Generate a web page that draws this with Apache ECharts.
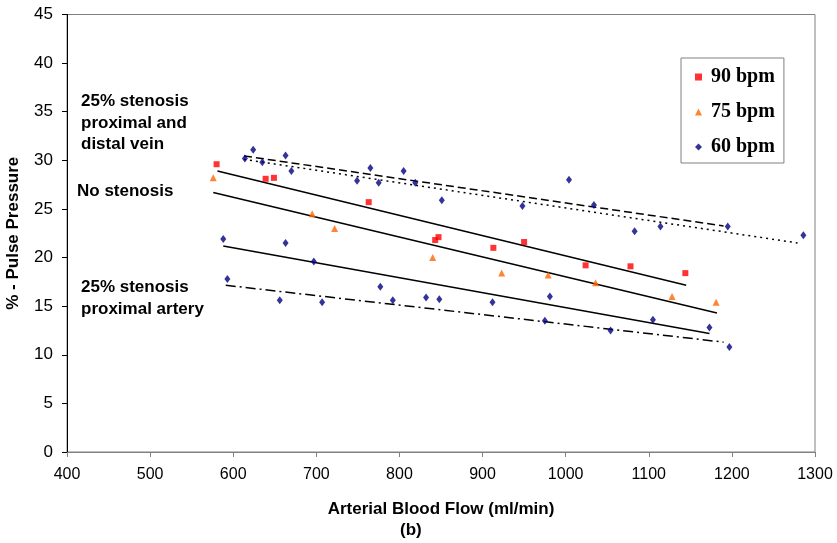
<!DOCTYPE html>
<html>
<head>
<meta charset="utf-8">
<script src="https://cdn.jsdelivr.net/npm/echarts@6/dist/echarts.min.js"></script>
<style>
  html, body { margin: 0; padding: 0; background: #fff; }
  #chart { width: 837px; height: 543px; }
</style>
</head>
<body>
<div id="chart"></div>
<script>
// Measured points: [arterial flow (ml/min), % pulse pressure]
const bpm90 = [[580,29.6],[639,28.1],[649,28.2],[763,25.7],[843,21.8],[847,22.1],[913,21.0],[950,21.6],[1024,19.2],[1078,19.1],[1144,18.4]];
const bpm75 = [[576,28.2],[695,24.5],[722,23.0],[840,20.0],[923,18.4],[979,18.2],[1036,17.4],[1128,16.0],[1181,15.4]];
const bpm60Vein = [[614,30.2],[624,31.1],[635,29.8],[663,30.5],[670,28.9],[749,27.9],[765,29.2],[775,27.7],[805,28.9],[819,27.7],[851,25.9],[948,25.3],[1004,28.0],[1034,25.4],[1083,22.7],[1114,23.2],[1195,23.2],[1286,22.3]];
const bpm60None = [[588,21.9],[663,21.5],[697,19.6],[777,17.0],[981,16.0],[1105,13.6],[1173,12.8]];
const bpm60Artery = [[593,17.8],[656,15.6],[707,15.4],[792,15.6],[832,15.9],[848,15.7],[912,15.4],[975,13.5],[1054,12.5],[1197,10.8]];

// Linear trend lines (end points)
const fit90 = [[581,28.9],[1145,17.15]];
const fit75 = [[576,26.7],[1182,14.3]];
const fit60 = [[588,21.2],[1173,12.2]];
const fitVeinDash = [[613,30.45],[1190,23.25]];
const fitVeinDot = [[613,30.1],[1279,21.5]];
const fitArtery = [[591,17.15],[1190,11.3]];

const xTicks = { min: 400, max: 1300, step: 100 };
const yTicks = { min: 0, max: 45, step: 5 };
const legendNames = ['90 bpm', '75 bpm', '60 bpm'];

const SANS = 'Liberation Sans, Arial, sans-serif';
const SERIF = 'Liberation Serif, Times New Roman, serif';

const chart = echarts.init(document.getElementById('chart'), null, { renderer: 'canvas' });

function fitLine(data, type) {
  return {
    type: 'line', data: data, symbol: 'none', silent: true, z: 2,
    lineStyle: { color: '#000', width: 1.5, type: type }
  };
}

chart.setOption({
  animation: false,
  backgroundColor: '#fff',
  grid: {
    left: 67, right: 22, top: 14.5, bottom: 91,
    containLabel: false, outerBoundsMode: 'none',
    show: true, borderColor: '#808080', borderWidth: 1, backgroundColor: 'transparent'
  },
  xAxis: {
    type: 'value', min: xTicks.min, max: xTicks.max, interval: xTicks.step,
    name: 'Arterial Blood Flow (ml/min)', nameLocation: 'middle', nameGap: 49,
    nameTextStyle: { fontFamily: SANS, fontWeight: 'bold', fontSize: 17, color: '#000' },
    axisLine: { lineStyle: { color: '#808080', width: 1 } },
    axisTick: { show: true, length: 5, inside: false, lineStyle: { color: '#808080' } },
    axisLabel: { margin: 15, fontFamily: SANS, fontSize: 16, color: '#000', formatter: v => String(v) },
    splitLine: { show: false }
  },
  yAxis: {
    type: 'value', min: yTicks.min, max: yTicks.max, interval: yTicks.step,
    name: '% - Pulse Pressure', nameLocation: 'middle', nameGap: 45, nameRotate: 90,
    nameTextStyle: { fontFamily: SANS, fontWeight: 'bold', fontSize: 17, color: '#000' },
    axisLine: { show: true, lineStyle: { color: '#000', width: 1 } },
    axisTick: { show: true, length: 5, inside: false, lineStyle: { color: '#000' } },
    axisLabel: { margin: 14, fontFamily: SANS, fontSize: 17, color: '#000' },
    splitLine: { show: false }
  },
  legend: {
    data: [
      { name: legendNames[0], icon: 'rect' },
      { name: legendNames[1], icon: 'triangle' },
      { name: legendNames[2], icon: 'diamond' }
    ],
    orient: 'vertical', left: 681, top: 58,
    padding: [9, 9, 6, 14],
    itemWidth: 7, itemHeight: 7, itemGap: 15,
    borderColor: '#808080', borderWidth: 1, backgroundColor: '#fff',
    textStyle: { fontFamily: SERIF, fontWeight: 'bold', fontSize: 20, color: '#000', lineHeight: 20, padding: [0, 0, 0, 4] },
    selectedMode: false
  },
  graphic: [
    { type: 'text', left: 81, top: 93, style: { text: '25% stenosis', font: 'bold 17px ' + SANS, fill: '#000' } },
    { type: 'text', left: 81, top: 115, style: { text: 'proximal and', font: 'bold 17px ' + SANS, fill: '#000' } },
    { type: 'text', left: 81, top: 136, style: { text: 'distal vein', font: 'bold 17px ' + SANS, fill: '#000' } },
    { type: 'text', left: 77, top: 183, style: { text: 'No stenosis', font: 'bold 17px ' + SANS, fill: '#000' } },
    { type: 'text', left: 81, top: 279, style: { text: '25% stenosis', font: 'bold 17px ' + SANS, fill: '#000' } },
    { type: 'text', left: 81, top: 301, style: { text: 'proximal artery', font: 'bold 17px ' + SANS, fill: '#000' } },
    { type: 'text', left: 400, top: 522, style: { text: '(b)', font: 'bold 17px ' + SANS, fill: '#000' } }
  ],
  series: [
    fitLine(fit90, 'solid'),
    fitLine(fit75, 'solid'),
    fitLine(fit60, 'solid'),
    fitLine(fitVeinDash, [8, 4]),
    fitLine(fitVeinDot, [2, 4]),
    fitLine(fitArtery, [10, 4, 2, 4]),
    { type: 'scatter', name: '90 bpm', data: bpm90, symbol: 'rect', symbolSize: 6, itemStyle: { color: '#FF0000' }, z: 3 },
    { type: 'scatter', name: '75 bpm', data: bpm75, symbol: 'triangle', symbolSize: 7, itemStyle: { color: '#FF6600' }, z: 3 },
    { type: 'scatter', name: '60 bpm', data: bpm60Vein, symbol: 'diamond', symbolSize: [6, 8], itemStyle: { color: '#000080' }, z: 3 },
    { type: 'scatter', name: '60 bpm', data: bpm60None, symbol: 'diamond', symbolSize: [6, 8], itemStyle: { color: '#000080' }, z: 3 },
    { type: 'scatter', name: '60 bpm', data: bpm60Artery, symbol: 'diamond', symbolSize: [6, 8], itemStyle: { color: '#000080' }, z: 3 }
  ]
});
</script>
</body>
</html>
